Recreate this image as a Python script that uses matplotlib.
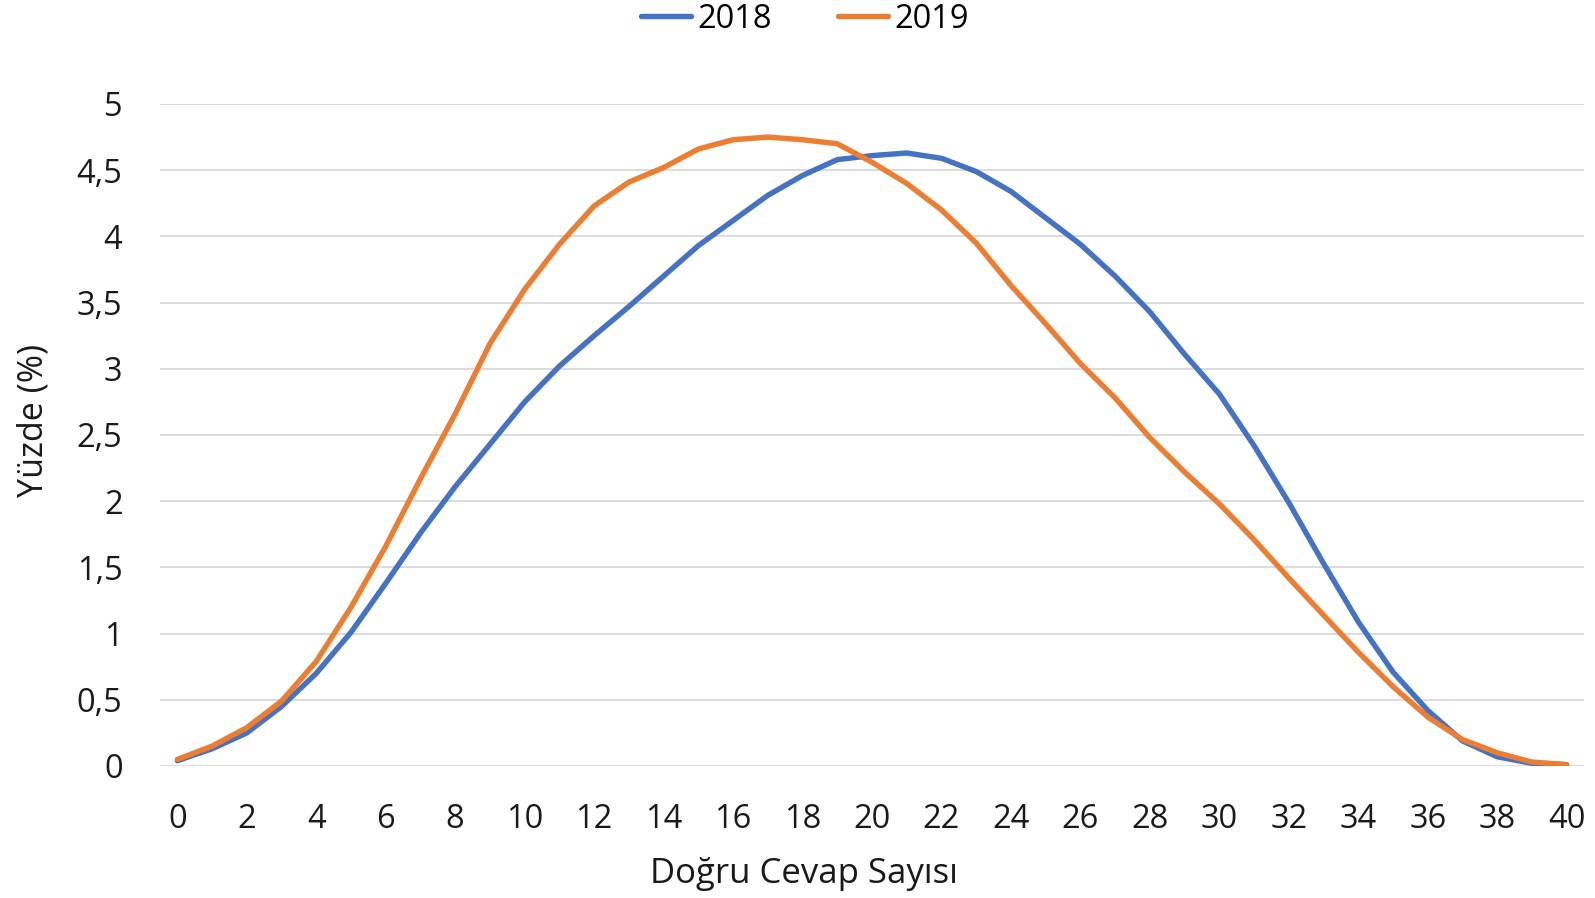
import matplotlib
matplotlib.use("Agg")
import matplotlib.pyplot as plt
from matplotlib.ticker import FuncFormatter, MultipleLocator

x_values = list(range(0, 41))
series_2018 = [0.04, 0.13, 0.25, 0.45, 0.70, 1.01, 1.38, 1.76, 2.11, 2.43,
               2.75, 3.02, 3.25, 3.47, 3.70, 3.93, 4.12, 4.31, 4.46, 4.58,
               4.61, 4.63, 4.59, 4.49, 4.34, 4.14, 3.94, 3.70, 3.43, 3.11,
               2.81, 2.42, 1.99, 1.53, 1.09, 0.71, 0.42, 0.19, 0.07, 0.02, 0.01]
series_2019 = [0.05, 0.15, 0.29, 0.49, 0.79, 1.20, 1.66, 2.17, 2.66, 3.19,
               3.60, 3.94, 4.23, 4.41, 4.52, 4.66, 4.73, 4.75, 4.73, 4.70,
               4.56, 4.40, 4.20, 3.95, 3.63, 3.34, 3.04, 2.78, 2.48, 2.22,
               1.98, 1.71, 1.42, 1.14, 0.86, 0.60, 0.37, 0.20, 0.10, 0.03, 0.01]
series_labels = ["2018", "2019"]
x_title = "Doğru Cevap Sayısı"
y_title = "Yüzde (%)"

plt.rcParams['font.family'] = ['Open Sans', 'DejaVu Sans']
FS = 23.5
TXT = "#1a1a1a"

fig = plt.figure(figsize=(15.95, 8.98), dpi=100)
ax = fig.add_axes([160/1595, 1 - 766/898, (1584-160)/1595, (766-104)/898])

ax.plot(x_values, series_2018, color="#4472C4", lw=3.9, label=series_labels[0], solid_capstyle="round")
ax.plot(x_values, series_2019, color="#ED7D31", lw=3.9, label=series_labels[1], solid_capstyle="round")

ax.set_xlim(-0.5, 40.5)
ax.set_ylim(0, 5)
ax.xaxis.set_major_locator(MultipleLocator(2))
ax.yaxis.set_major_locator(MultipleLocator(0.5))
ax.yaxis.set_major_formatter(FuncFormatter(lambda v, p: ("%g" % v).replace(".", ",")))

ax.grid(axis="y", color="#d9d9d9", lw=1.3)
ax.set_axisbelow(True)
for s in ax.spines.values():
    s.set_visible(False)
ax.tick_params(axis="both", length=0, labelsize=FS, colors=TXT)
ax.tick_params(axis="y", pad=27)
ax.tick_params(axis="x", pad=27)

fig.text(804/1595, 1 - 874/898, x_title, fontsize=FS + 1.5, color=TXT, ha="center", va="center")
fig.text(33/1595, 1 - 420/898, y_title, fontsize=FS + 1, color=TXT, ha="center", va="center", rotation=90)

fig.legend(loc="center", bbox_to_anchor=(805/1595, 1 - 19/898), ncol=2, frameon=False,
           fontsize=FS, handlelength=1.55, columnspacing=2.0, handletextpad=0.2)

fig.savefig("out.png", dpi=100)
